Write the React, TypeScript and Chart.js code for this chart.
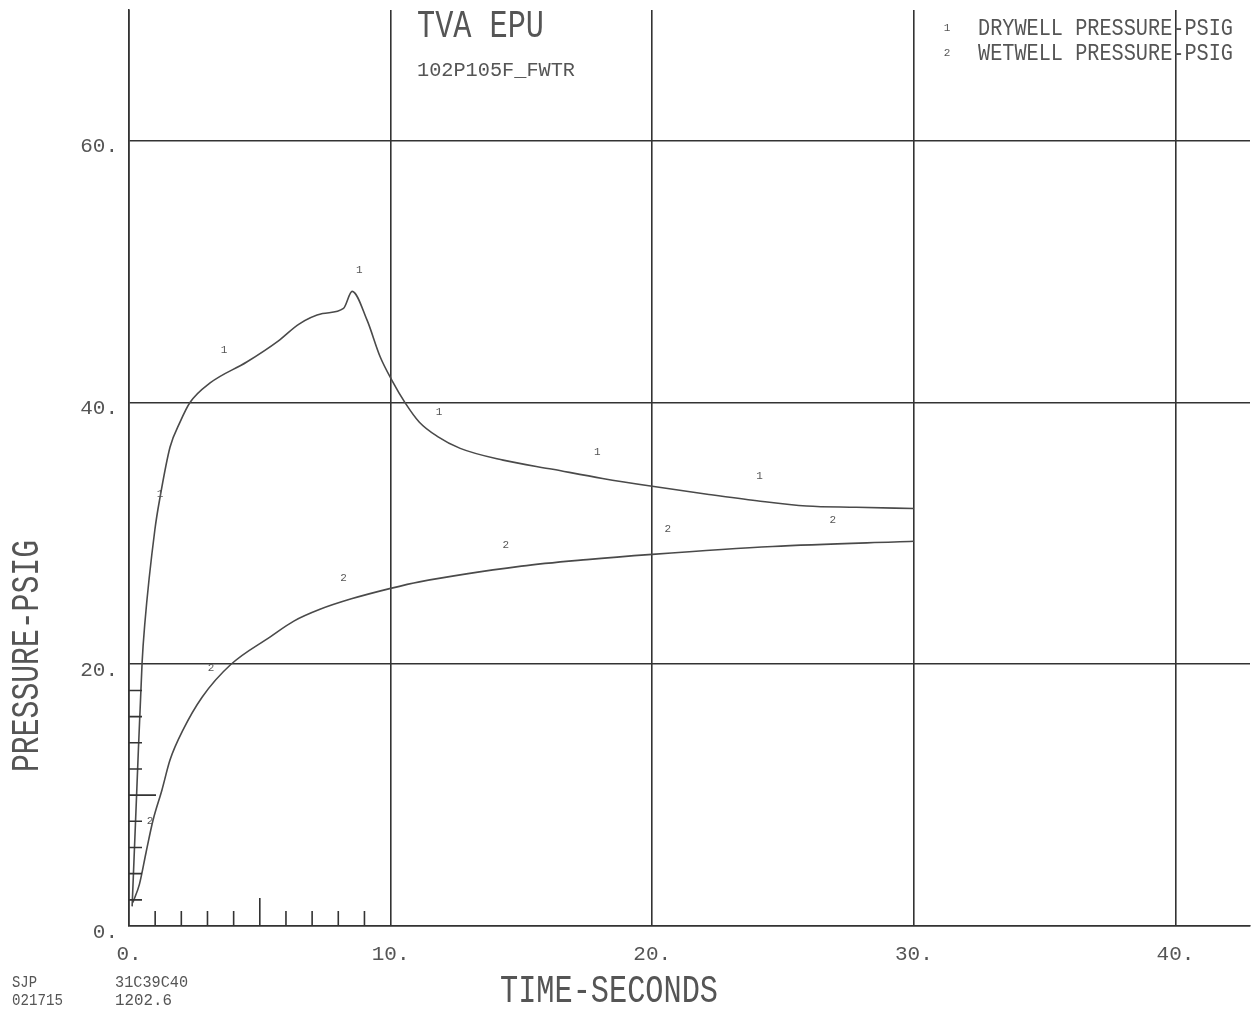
import React, { useEffect, useRef } from "react";
import { Chart, registerables } from "chart.js";

Chart.register(...registerables);

// ---- data ----
const TIME_DRY = [0.12, 0.3, 0.5, 0.6, 0.99, 1.19, 1.57, 1.95, 2.33, 3.1, 4.5, 5.7, 6.5, 7.4, 8.2, 8.53, 9.1, 9.6, 10.05, 10.55, 11.1, 11.8, 12.66, 14.3, 16.2, 18.1, 20.0, 22.1, 24.0, 25.9, 27.8, 30.0];
const DRYWELL = [1.5, 10.5, 20.1, 23.0, 30.3, 32.8, 36.6, 38.5, 40.0, 41.5, 43.1, 44.7, 46.0, 46.8, 47.2, 48.5, 46.3, 43.5, 41.7, 40.0, 38.5, 37.4, 36.5, 35.6, 34.9, 34.2, 33.6, 33.0, 32.5, 32.1, 32.0, 31.9];

const TIME_WET = [0.15, 0.4, 0.65, 0.92, 1.26, 1.57, 2.07, 2.8, 3.9, 5.4, 6.3, 7.3, 8.5, 10.0, 11.1, 15.0, 17.5, 20.0, 24.6, 30.0];
const WETWELL = [1.8, 3.2, 5.6, 8.1, 10.4, 12.7, 15.0, 17.5, 20.0, 22.1, 23.3, 24.2, 25.0, 25.8, 26.3, 27.5, 28.0, 28.4, 29.0, 29.4];

// curve identification marks
const MARK1_X = [1.19, 3.63, 8.8, 11.85, 17.9, 24.1];
const MARK1_Y = [33.0, 44.0, 50.1, 39.3, 36.2, 34.4];
const MARK2_X = [0.8, 3.14, 8.2, 14.4, 20.6, 26.9];
const MARK2_Y = [8.0, 19.7, 26.6, 29.1, 30.3, 31.0];

const X_TICKS = [0, 10, 20, 30, 40];
const Y_TICKS = [0, 20, 40, 60];
const X_MINOR = [1, 2, 3, 4, 5, 6, 7, 8, 9];
const Y_MINOR = [2, 4, 6, 8, 10, 12, 14, 16, 18];

const TITLE = "TVA EPU";
const SUBTITLE = "102P105F_FWTR";
const LEGEND = ["DRYWELL PRESSURE-PSIG", "WETWELL PRESSURE-PSIG"];
const X_TITLE = "TIME-SECONDS";
const Y_TITLE = "PRESSURE-PSIG";
const FOOTER = [["SJP", "021715"], ["31C39C40", "1202.6"]];

const INK = "#333";
const TEXT = "#555";
const MONO = '"Liberation Mono", "DejaVu Sans Mono", monospace';

function fitText(ctx: CanvasRenderingContext2D, text: string, x: number, y: number, size: number, width: number, rot = 0, family = MONO) {
  ctx.save();
  ctx.font = `${size}px ${family}`;
  ctx.fillStyle = TEXT;
  ctx.textAlign = "left";
  ctx.textBaseline = "alphabetic";
  const w = ctx.measureText(text).width;
  ctx.translate(x, y);
  if (rot) ctx.rotate(rot);
  ctx.scale(width / w, 1);
  ctx.fillText(text, 0, 0);
  ctx.restore();
}

const annotPlugin = {
  id: "annot",
  afterDraw(chart: any) {
    const ctx: CanvasRenderingContext2D = chart.ctx;
    const xs = chart.scales.x;
    const ys = chart.scales.y;
    const area = chart.chartArea;
    ctx.save();
    ctx.strokeStyle = INK;
    ctx.lineWidth = 1.6;
    ctx.beginPath();
    X_MINOR.forEach((v) => {
      const px = xs.getPixelForValue(v);
      const len = v === 5 ? 28 : 15;
      ctx.moveTo(px, area.bottom);
      ctx.lineTo(px, area.bottom - len);
    });
    Y_MINOR.forEach((v) => {
      const py = ys.getPixelForValue(v);
      const len = v === 10 ? 27 : 13;
      ctx.moveTo(area.left, py);
      ctx.lineTo(area.left + len, py);
    });
    ctx.stroke();

    // curve marks
    ctx.fillStyle = TEXT;
    ctx.font = `11px ${MONO}`;
    ctx.textAlign = "center";
    ctx.textBaseline = "middle";
    MARK1_X.forEach((v, i) => ctx.fillText("1", xs.getPixelForValue(v), ys.getPixelForValue(MARK1_Y[i])));
    MARK2_X.forEach((v, i) => ctx.fillText("2", xs.getPixelForValue(v), ys.getPixelForValue(MARK2_Y[i])));
    ctx.fillText("1", 947, 28);
    ctx.fillText("2", 947, 53);
    ctx.restore();

    fitText(ctx, TITLE, 417, 37, 38, 127);
    fitText(ctx, SUBTITLE, 417, 76, 21, 158);
    fitText(ctx, LEGEND[0], 978, 35, 23, 255);
    fitText(ctx, LEGEND[1], 978, 60, 23, 255);
    fitText(ctx, X_TITLE, 500, 1002, 38, 218);
    fitText(ctx, Y_TITLE, 38, 772, 39, 232, -Math.PI / 2);
    fitText(ctx, FOOTER[0][0], 12, 987, 17, 25);
    fitText(ctx, FOOTER[0][1], 12, 1005, 17, 51);
    fitText(ctx, FOOTER[1][0], 115, 987, 17, 73);
    fitText(ctx, FOOTER[1][1], 115, 1005, 17, 57);
  },
};

export default function App() {
  const ref = useRef<HTMLCanvasElement | null>(null);
  useEffect(() => {
    if (!ref.current) return;
    const chart = new Chart(ref.current, {
      type: "line",
      data: {
        datasets: [
          {
            label: LEGEND[0],
            data: TIME_DRY.map((t, i) => ({ x: t, y: DRYWELL[i] })),
            borderColor: "#4a4a4a",
            borderWidth: 1.6,
            pointRadius: 0,
            cubicInterpolationMode: "monotone",
            fill: false,
          },
          {
            label: LEGEND[1],
            data: TIME_WET.map((t, i) => ({ x: t, y: WETWELL[i] })),
            borderColor: "#4a4a4a",
            borderWidth: 1.6,
            pointRadius: 0,
            cubicInterpolationMode: "monotone",
            fill: false,
          },
        ],
      },
      options: {
        animation: false,
        responsive: false,
        layout: { padding: { top: 10, right: 4, left: 0, bottom: 0 } },
        plugins: { legend: { display: false }, tooltip: { enabled: false }, title: { display: false } },
        scales: {
          x: {
            type: "linear",
            min: 0,
            max: 42.85,
            afterBuildTicks: (s: any) => { s.ticks = X_TICKS.map((v) => ({ value: v })); },
            afterFit: (s: any) => { s.height = 86; s.paddingLeft = 0; s.paddingRight = 0; },
            grid: { color: INK, lineWidth: 1.6, drawTicks: false },
            border: { color: INK, width: 1.6 },
            ticks: { color: TEXT, font: { family: MONO, size: 21 }, padding: 16, maxRotation: 0, callback: (v: any) => `${v}.` },
          },
          y: {
            type: "linear",
            min: 0,
            max: 70,
            afterBuildTicks: (s: any) => { s.ticks = Y_TICKS.map((v) => ({ value: v })); },
            afterFit: (s: any) => { s.width = 129; s.paddingTop = 0; s.paddingBottom = 0; },
            grid: { color: INK, lineWidth: 1.6, drawTicks: false },
            border: { color: INK, width: 1.6 },
            ticks: { color: TEXT, font: { family: MONO, size: 21 }, padding: 11, labelOffset: 6, callback: (v: any) => `${v}.` },
          },
        },
      } as any,
      plugins: [annotPlugin],
    });
    return () => chart.destroy();
  }, []);
  return (
    <div style={{ position: "fixed", left: 0, top: 0, width: 1254, height: 1012, background: "#fff" }}>
      <canvas ref={ref} width={1254} height={1012} style={{ width: 1254, height: 1012 }} />
    </div>
  );
}
